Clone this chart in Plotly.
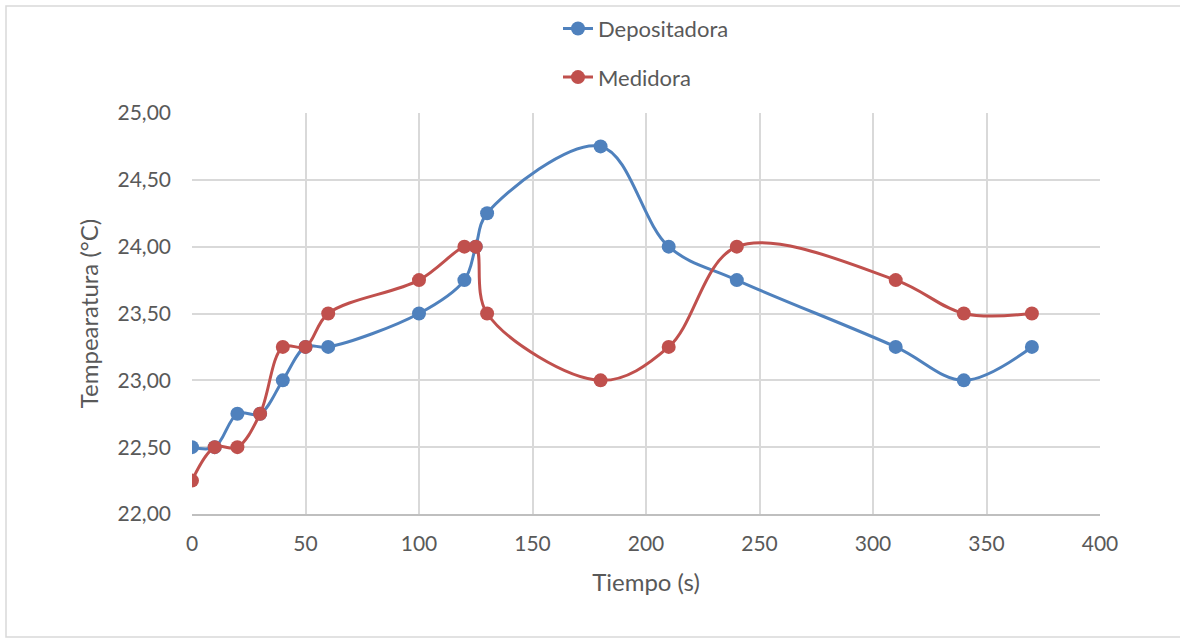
import plotly.graph_objects as go

tiempo = [0, 10, 20, 30, 40, 50, 60, 100, 120, 125, 130, 180, 210, 240, 310, 340, 370]
depositadora = [22.5, 22.5, 22.75, 22.75, 23.0, 23.25, 23.25, 23.5, 23.75, 24.0, 24.25, 24.75, 24.0, 23.75, 23.25, 23.0, 23.25]
medidora = [22.25, 22.5, 22.5, 22.75, 23.25, 23.25, 23.5, 23.75, 24.0, 24.0, 23.5, 23.0, 23.25, 24.0, 23.75, 23.5, 23.5]

BLUE = "#4F81BD"
RED = "#C0504D"
FONT = "Lato"
TXT = "#595959"

fig = go.Figure()
fig.add_trace(go.Scatter(
    x=tiempo, y=depositadora, name="Depositadora", mode="lines+markers",
    line=dict(color=BLUE, width=3, shape="spline", smoothing=1),
    marker=dict(color=BLUE, size=14), legendgroup="a"))
fig.add_trace(go.Scatter(
    x=tiempo, y=medidora, name="Medidora", mode="lines+markers",
    line=dict(color=RED, width=3, shape="spline", smoothing=1),
    marker=dict(color=RED, size=14), legendgroup="b"))

fig.update_layout(
    width=1180, height=643,
    margin=dict(l=192, r=80, t=113, b=129, autoexpand=False),
    paper_bgcolor="white", plot_bgcolor="white",
    separators=",.",
    font=dict(family=FONT, color=TXT, size=20),
    showlegend=True,
    legend=dict(orientation="v", x=0.5, xref="paper", xanchor="center",
                y=0.988, yref="container", yanchor="top",
                font=dict(size=22, color=TXT, family=FONT),
                traceorder="grouped", tracegroupgap=17,
                bgcolor="rgba(0,0,0,0)"),
    xaxis=dict(range=[0, 400], tick0=0, dtick=50, showgrid=True, gridcolor="#D9D9D9", gridwidth=1.5,
               zeroline=False, showline=True, linecolor="#BFBFBF", linewidth=1.5,
               ticks="", tickfont=dict(size=21, color=TXT), ticklabelstandoff=10,
               title=dict(text="Tiempo (s)", font=dict(size=24, color=TXT), standoff=20)),
    yaxis=dict(range=[22, 25], tick0=22, dtick=0.5, tickformat=".2f", showgrid=True,
               gridcolor="#D9D9D9", gridwidth=1.5, zeroline=False, showline=False,
               ticks="", tickfont=dict(size=21, color=TXT), ticklabelstandoff=20,
               title=dict(text="Tempearatura (°C)", font=dict(size=24, color=TXT), standoff=12)),
)

fig.add_shape(type="rect", xref="paper", yref="paper",
              x0=-186/908, x1=1074/908, y0=-123/401, y1=1 + 107/401,
              line=dict(color="#D9D9D9", width=1.5), fillcolor="rgba(0,0,0,0)", layer="below")

fig.write_html("out.html")
